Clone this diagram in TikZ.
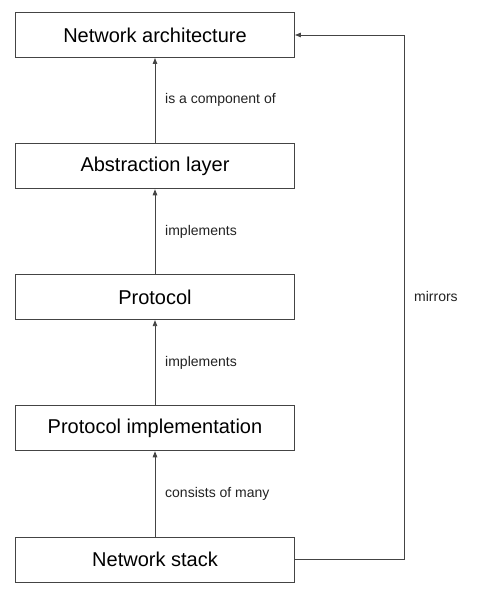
\documentclass[tikz,border=0pt]{standalone}
\usepackage{fontspec}
\setmainfont{Liberation Sans}
\usetikzlibrary{arrows.meta}
\definecolor{linegray}{HTML}{444444}
\definecolor{textgray}{HTML}{222222}
\begin{document}
\begin{tikzpicture}[x=1pt,y=-1pt,
  box/.style={draw=linegray, line width=0.9pt, minimum width=279pt, minimum height=45pt,
    inner sep=0pt, text=black, font=\fontsize{20}{24}\selectfont},
  lbl/.style={anchor=west, inner sep=0pt, text=textgray, font=\fontsize{14}{17}\selectfont},
  conn/.style={draw=linegray, line width=0.9pt, -{Triangle[length=6pt,width=4.5pt]}}]
\useasboundingbox (0,0) rectangle (479,600);
\node[box] (arch) at (155,35) {Network architecture};
\node[box] (abs) at (155,166.3) {Abstraction layer};
\node[box] (proto) at (155,297.2) {Protocol};
\node[box] (impl) at (155,428.3) {Protocol implementation};
\node[box] (stack) at (155,559.5) {Network stack};
\coordinate (corner) at (404.7,559.5);
\draw[conn] (abs) -- (arch);
\draw[conn] (proto) -- (abs);
\draw[conn] (impl) -- (proto);
\draw[conn] (stack) -- (impl);
\draw[conn] (stack.east) -- (corner) |- (arch.east);
\node[lbl] (l1) at (165,100) {is a component of};
\node[lbl] (l2) at (165,231.7) {implements};
\node[lbl] (l3) at (165,362.7) {implements};
\node[lbl] (l4) at (165,494) {consists of many};
\node[lbl] (l5) at (414,296.7) {mirrors};
\end{tikzpicture}
\end{document}
